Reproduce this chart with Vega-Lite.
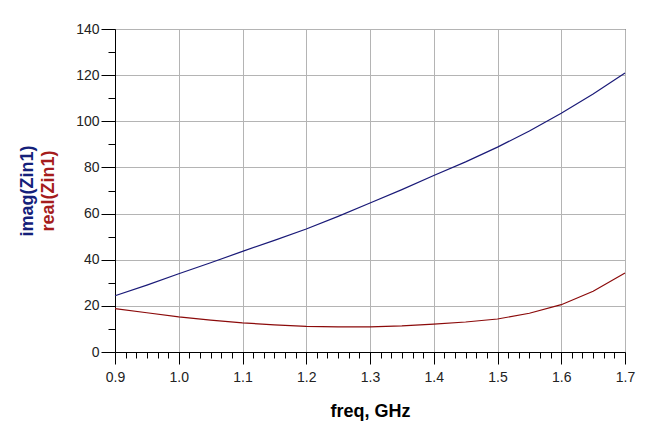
{
  "$schema": "https://vega.github.io/schema/vega-lite/v6.json",
  "autosize": "none",
  "width": 510,
  "height": 323,
  "padding": {"left": 115, "top": 29, "right": 46, "bottom": 78},
  "background": "white",
  "config": {
    "view": {"stroke": "black", "strokeWidth": 1},
    "axis": {
      "labelFont": "Liberation Sans",
      "titleFont": "Liberation Sans",
      "labelFontSize": 14,
      "labelColor": "#222222",
      "domainColor": "black",
      "tickColor": "black",
      "gridColor": "#b4b4b4",
      "gridWidth": 1
    }
  },
  "data": {
    "values": [
      {"freq": 0.9, "imag": 24.4, "real": 18.8},
      {"freq": 0.95, "imag": 29.0, "real": 17.0},
      {"freq": 1.0, "imag": 33.9, "real": 15.2},
      {"freq": 1.05, "imag": 38.7, "real": 13.8},
      {"freq": 1.1, "imag": 43.6, "real": 12.6},
      {"freq": 1.15, "imag": 48.4, "real": 11.8},
      {"freq": 1.2, "imag": 53.3, "real": 11.1},
      {"freq": 1.25, "imag": 58.8, "real": 10.9},
      {"freq": 1.3, "imag": 64.6, "real": 10.9},
      {"freq": 1.35, "imag": 70.4, "real": 11.3},
      {"freq": 1.4, "imag": 76.5, "real": 12.1},
      {"freq": 1.45, "imag": 82.4, "real": 13.0},
      {"freq": 1.5, "imag": 88.8, "real": 14.3},
      {"freq": 1.55, "imag": 95.8, "real": 16.8},
      {"freq": 1.6, "imag": 103.5, "real": 20.5},
      {"freq": 1.65, "imag": 111.8, "real": 26.3},
      {"freq": 1.7, "imag": 120.9, "real": 34.2}
    ]
  },
  "layer": [
    {
      "mark": {"type": "line", "color": "#1a1a78", "strokeWidth": 1.2},
      "encoding": {
        "x": {
          "field": "freq", "type": "quantitative",
          "scale": {"domain": [0.9, 1.7], "nice": false, "zero": false},
          "axis": {
            "orient": "bottom",
            "values": [0.9, 1.0, 1.1, 1.2, 1.3, 1.4, 1.5, 1.6, 1.7],
            "format": ".1f",
            "tickSize": 12,
            "labelPadding": 6,
            "grid": true,
            "title": "freq, GHz",
            "titleFontSize": 18,
            "titleFontWeight": "bold",
            "titleColor": "black",
            "titleX": 255,
            "titleY": 59,
            "titleBaseline": "middle",
            "labelFlush": false
          }
        },
        "y": {
          "field": "imag", "type": "quantitative",
          "scale": {"domain": [0, 140], "nice": false},
          "axis": {
            "orient": "left",
            "values": [0, 20, 40, 60, 80, 100, 120, 140],
            "tickSize": 14,
            "labelPadding": 2,
            "grid": true,
            "title": "real(Zin1)",
            "titleColor": "#a51c1c",
            "titleFontSize": 18,
            "titleFontWeight": "bold",
            "titleX": -67,
            "titleY": 161.5,
            "titleBaseline": "middle",
            "titleAlign": "center",
            "labelFlush": false
          }
        }
      }
    },
    {
      "mark": {"type": "line", "color": "#8b0a0a", "strokeWidth": 1.2},
      "encoding": {
        "x": {
          "field": "freq", "type": "quantitative",
          "scale": {"domain": [0.9, 1.7], "nice": false, "zero": false},
          "axis": {
            "orient": "bottom",
            "values": [0.91667, 0.93333, 0.95, 0.96667, 0.98333,
                       1.01667, 1.03333, 1.05, 1.06667, 1.08333,
                       1.11667, 1.13333, 1.15, 1.16667, 1.18333,
                       1.21667, 1.23333, 1.25, 1.26667, 1.28333,
                       1.31667, 1.33333, 1.35, 1.36667, 1.38333,
                       1.41667, 1.43333, 1.45, 1.46667, 1.48333,
                       1.51667, 1.53333, 1.55, 1.56667, 1.58333,
                       1.61667, 1.63333, 1.65, 1.66667, 1.68333],
            "tickSize": 6,
            "labels": false,
            "domain": false,
            "grid": false,
            "title": null
          }
        },
        "y": {
          "field": "real", "type": "quantitative",
          "scale": {"domain": [0, 140], "nice": false},
          "axis": {
            "orient": "left",
            "values": [10, 30, 50, 70, 90, 110, 130],
            "tickSize": 7,
            "labels": false,
            "domain": false,
            "grid": false,
            "title": "imag(Zin1)",
            "titleColor": "#14207a",
            "titleFontSize": 18,
            "titleFontWeight": "bold",
            "titleAngle": 270,
            "titleX": -88,
            "titleY": 161.5,
            "titleBaseline": "middle",
            "titleAlign": "center"
          }
        }
      }
    }
  ],
  "resolve": {"axis": {"x": "independent", "y": "independent"}}
}
